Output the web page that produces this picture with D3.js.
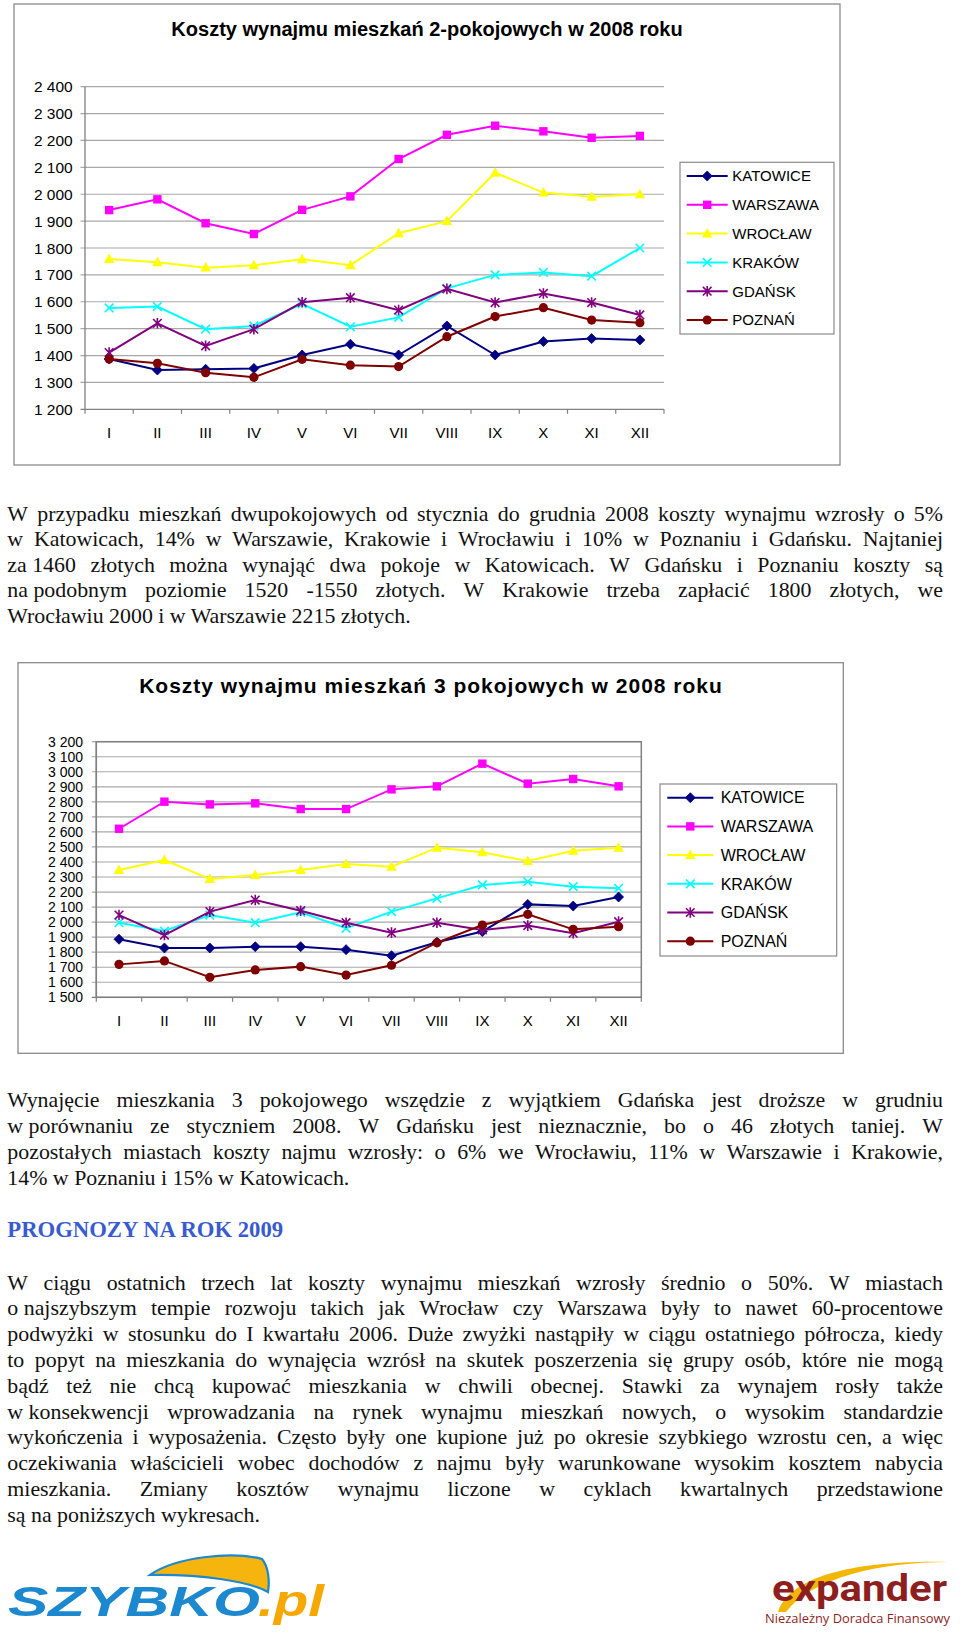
<!DOCTYPE html>
<html><head><meta charset="utf-8">
<script src="https://cdn.jsdelivr.net/npm/d3@7"></script>
<style>
html,body{margin:0;padding:0;background:#fff;}
svg{display:block;}
</style></head><body>
<svg id="page" width="960" height="1632" xmlns="http://www.w3.org/2000/svg"></svg>
<script>
// ---------------- DATA ----------------
const months = ["I","II","III","IV","V","VI","VII","VIII","IX","X","XI","XII"];
const cities = ["KATOWICE","WARSZAWA","WROCŁAW","KRAKÓW","GDAŃSK","POZNAŃ"];

// 2-room flats
const katowice2 = [1387,1346,1349,1352,1402,1442,1402,1510,1402,1452,1463,1458];
const warszawa2 = [1941,1981,1892,1852,1942,1992,2131,2221,2255,2234,2210,2217];
const wroclaw2  = [1759,1747,1727,1736,1758,1736,1855,1900,2080,2006,1991,2000];
const krakow2   = [1577,1582,1498,1510,1592,1507,1542,1650,1700,1709,1695,1800];
const gdansk2   = [1411,1520,1436,1498,1598,1615,1569,1648,1597,1631,1597,1551];
const poznan2   = [1387,1371,1336,1319,1386,1364,1359,1470,1545,1578,1532,1522];

// 3-room flats
const katowice3 = [1886,1828,1828,1837,1837,1817,1777,1866,1937,2118,2107,2167];
const warszawa3 = [2621,2801,2783,2790,2752,2752,2883,2903,3054,2921,2952,2903];
const wroclaw3  = [2347,2413,2287,2313,2347,2387,2369,2495,2464,2406,2475,2495];
const krakow3   = [1996,1941,2047,1996,2065,1959,2070,2158,2247,2269,2236,2225];
const gdansk3   = [2047,1914,2070,2147,2076,1996,1930,1996,1948,1977,1926,2003];
const poznan3   = [1719,1742,1633,1682,1704,1648,1713,1863,1981,2052,1952,1970];

const yTicks2 = [1200,1300,1400,1500,1600,1700,1800,1900,2000,2100,2200,2300,2400];
const yTicks3 = [1500,1600,1700,1800,1900,2000,2100,2200,2300,2400,2500,2600,2700,2800,2900,3000,3100,3200];

const title2 = "Koszty wynajmu mieszkań 2-pokojowych w 2008 roku";
const title3 = "Koszty wynajmu mieszkań 3 pokojowych w 2008 roku";

const para1 = [
 "W przypadku mieszkań dwupokojowych od stycznia do grudnia 2008 koszty wynajmu wzrosły o 5%",
 "w Katowicach, 14% w Warszawie, Krakowie i Wrocławiu i 10% w Poznaniu i Gdańsku. Najtaniej",
 "za\u00a01460 złotych można wynająć dwa pokoje w Katowicach. W Gdańsku i Poznaniu koszty są",
 "na\u00a0podobnym poziomie 1520 -1550 złotych. W Krakowie trzeba zapłacić 1800 złotych, we",
 "Wrocławiu 2000 i w Warszawie 2215 złotych."
];
const para2 = [
 "Wynajęcie mieszkania 3 pokojowego wszędzie z wyjątkiem Gdańska jest droższe w grudniu",
 "w\u00a0porównaniu ze styczniem 2008. W Gdańsku jest nieznacznie, bo o 46 złotych taniej. W",
 "pozostałych miastach koszty najmu wzrosły: o 6% we Wrocławiu, 11% w Warszawie i Krakowie,",
 "14% w Poznaniu i 15% w Katowicach."
];
const heading = "PROGNOZY NA ROK 2009";
const para3 = [
 "W ciągu ostatnich trzech lat koszty wynajmu mieszkań wzrosły średnio o 50%. W miastach",
 "o\u00a0najszybszym tempie rozwoju takich jak Wrocław czy Warszawa były to nawet 60-procentowe",
 "podwyżki w stosunku do I kwartału 2006. Duże zwyżki nastąpiły w ciągu ostatniego półrocza, kiedy",
 "to popyt na mieszkania do wynajęcia wzrósł na skutek poszerzenia się grupy osób, które nie mogą",
 "bądź też nie chcą kupować mieszkania w chwili obecnej. Stawki za wynajem rosły także",
 "w\u00a0konsekwencji wprowadzania na rynek wynajmu mieszkań nowych, o wysokim standardzie",
 "wykończenia i wyposażenia. Często były one kupione już po okresie szybkiego wzrostu cen, a więc",
 "oczekiwania właścicieli wobec dochodów z najmu były warunkowane wysokim kosztem nabycia",
 "mieszkania. Zmiany kosztów wynajmu liczone w cyklach kwartalnych przedstawione",
 "są na poniższych wykresach."
];

// ---------------- STYLE ----------------
const colors = ["#000080","#FF00FF","#FFFF00","#00FFFF","#800080","#800000"];
const shapes = ["diamond","square","triangle","x","star","circle"];
const sans = 'Arial, "Liberation Sans", sans-serif';
const serif = '"Liberation Serif", "Times New Roman", serif';

const svg = d3.select("#page");
svg.append("rect").attr("width",960).attr("height",1632).attr("fill","#fff");

const fmt = d3.formatLocale({decimal:",", thousands:" ", grouping:[3], currency:["",""]}).format(",d");

function drawMarker(g, type, color, s) {
  if (type === "diamond") {
    g.append("path").attr("d", `M0,${-5*s}L${5*s},0L0,${5*s}L${-5*s},0Z`).attr("fill", color).attr("stroke", color).attr("stroke-width",0.8);
  } else if (type === "square") {
    g.append("rect").attr("x",-4.2*s).attr("y",-4.2*s).attr("width",8.4*s).attr("height",8.4*s).attr("fill",color);
  } else if (type === "triangle") {
    g.append("path").attr("d", `M0,${-5.5*s}L${5.2*s},${4*s}L${-5.2*s},${4*s}Z`).attr("fill",color);
  } else if (type === "x") {
    g.append("path").attr("d", `M${-4.3*s},${-4.3*s}L${4.3*s},${4.3*s}M${-4.3*s},${4.3*s}L${4.3*s},${-4.3*s}`).attr("stroke",color).attr("stroke-width",1.6).attr("fill","none");
  } else if (type === "star") {
    g.append("path").attr("d", `M${-4.3*s},${-4.3*s}L${4.3*s},${4.3*s}M${-4.3*s},${4.3*s}L${4.3*s},${-4.3*s}M0,${-5.3*s}L0,${5.3*s}`).attr("stroke",color).attr("stroke-width",1.6).attr("fill","none");
  } else if (type === "circle") {
    g.append("circle").attr("r",4.6*s).attr("fill",color);
  }
}

function drawChart(cfg) {
  const g = svg.append("g");
  // frame
  g.append("rect").attr("x",cfg.frame[0]).attr("y",cfg.frame[1]).attr("width",cfg.frame[2]).attr("height",cfg.frame[3])
    .attr("fill","#fff").attr("stroke","#8a8a8a").attr("stroke-width",1.3);
  // title
  g.append("text").attr("x",cfg.titleX).attr("y",cfg.titleY).attr("text-anchor","middle")
    .attr("font-family",sans).attr("font-weight","bold").attr("font-size",cfg.titleSize)
    .attr("letter-spacing",cfg.titleLS).text(cfg.title);

  const x = d3.scaleBand().domain(months).range([cfg.left, cfg.right]);
  const y = d3.scaleLinear().domain(cfg.domain).range([cfg.bottom, cfg.top]);

  // gridlines
  g.append("g").selectAll("line").data(cfg.ticks).join("line")
    .attr("x1", cfg.left - 4.5).attr("x2", cfg.right)
    .attr("y1", d => y(d)).attr("y2", d => y(d))
    .attr("stroke", d => d === cfg.domain[0] ? "#808080" : "#a8a8a8").attr("stroke-width", 1.2);
  // y axis line
  g.append("line").attr("x1",cfg.left).attr("x2",cfg.left).attr("y1",cfg.top).attr("y2",cfg.bottom)
    .attr("stroke","#808080").attr("stroke-width",1.3);
  if (cfg.border) {
    g.append("rect").attr("x",cfg.left).attr("y",cfg.top).attr("width",cfg.right-cfg.left).attr("height",cfg.bottom-cfg.top)
      .attr("fill","none").attr("stroke","#808080").attr("stroke-width",1.5);
  }
  // x ticks at band boundaries
  const bounds = months.map(m => x(m)).concat([cfg.right]);
  g.append("g").selectAll("line").data(bounds).join("line")
    .attr("x1", d => d).attr("x2", d => d).attr("y1", cfg.bottom).attr("y2", cfg.bottom + 4.5)
    .attr("stroke","#808080").attr("stroke-width",1.2);
  // y labels
  g.append("g").selectAll("text").data(cfg.ticks).join("text")
    .attr("x", cfg.yLabelX).attr("y", d => y(d)).attr("dy","0.36em").attr("text-anchor","end")
    .attr("font-family",sans).attr("font-size",cfg.yLabelSize).attr("fill","#000").text(d => fmt(d));
  // x labels
  g.append("g").selectAll("text").data(months).join("text")
    .attr("x", d => x(d) + x.bandwidth()/2).attr("y", cfg.xLabelY).attr("text-anchor","middle")
    .attr("font-family",sans).attr("font-size",cfg.xLabelSize).attr("fill","#000").text(d => d);

  // series
  const line = d3.line().x((d,i) => x(months[i]) + x.bandwidth()/2).y(d => y(d));
  cfg.series.forEach((vals, si) => {
    const sg = g.append("g");
    sg.append("path").attr("d", line(vals)).attr("fill","none").attr("stroke",colors[si]).attr("stroke-width",2);
    vals.forEach((v,i) => {
      const mg = sg.append("g").attr("transform", `translate(${x(months[i]) + x.bandwidth()/2},${y(v)})`);
      drawMarker(mg, shapes[si], colors[si], cfg.markerScale);
    });
  });

  // legend
  const L = cfg.legend;
  g.append("rect").attr("x",L.x).attr("y",L.y).attr("width",L.w).attr("height",L.h)
    .attr("fill","#fff").attr("stroke","#8a8a8a").attr("stroke-width",1.2);
  cities.forEach((c, i) => {
    const ly = L.y0 + i * L.step;
    g.append("line").attr("x1",L.lx1).attr("x2",L.lx2).attr("y1",ly).attr("y2",ly).attr("stroke",colors[i]).attr("stroke-width",2);
    const mg = g.append("g").attr("transform",`translate(${(L.lx1+L.lx2)/2},${ly})`);
    drawMarker(mg, shapes[i], colors[i], cfg.markerScale);
    g.append("text").attr("x",L.tx).attr("y",ly).attr("dy","0.36em").attr("font-family",sans)
      .attr("font-size",L.size).attr("fill","#000").text(c);
  });
}

drawChart({
  frame:[14,4,826,461], title:title2, titleX:427, titleY:36, titleSize:20, titleLS:0,
  left:85, right:664, top:86.7, bottom:409.3, domain:[1200,2400], ticks:yTicks2, border:false,
  yLabelX:72.7, yLabelSize:15.5, xLabelY:438, xLabelSize:15,
  series:[katowice2,warszawa2,wroclaw2,krakow2,gdansk2,poznan2], markerScale:1,
  legend:{x:680,y:162.3,w:154,h:171.7,y0:176,step:28.8,lx1:686.7,lx2:727.7,tx:732.3,size:15}
});

drawChart({
  frame:[18,662.7,825.3,390.6], title:title3, titleX:431, titleY:693.3, titleSize:21, titleLS:1,
  left:96.3, right:641.3, top:741.7, bottom:997.3, domain:[1500,3200], ticks:yTicks3, border:true,
  yLabelX:83, yLabelSize:14, xLabelY:1025.5, xLabelSize:15,
  series:[katowice3,warszawa3,wroclaw3,krakow3,gdansk3,poznan3], markerScale:1,
  legend:{x:660,y:784,w:176.7,h:172,y0:797.7,step:28.7,lx1:667.3,lx2:713.3,tx:720.7,size:16}
});

// ---------------- TEXT ----------------
const ctx = document.createElement("canvas").getContext("2d");
function measure(t, fs, weight) { ctx.font = `${weight || ""} ${fs}px "Liberation Serif"`; return ctx.measureText(t).width; }
const calib = [["Wrocławiu 2000 i w Warszawie 2215 złotych.",404],["14% w Poznaniu i 15% w Katowicach.",344],["są na poniższych wykresach.",250.7]];
const bodyFS = 100 * d3.sum(calib, c => c[1]) / d3.sum(calib, c => measure(c[0],100));
const X0 = 7.3, X1 = 943;

function drawPara(lines, y0, step) {
  lines.forEach((ln, i) => {
    const yy = y0 + i*step;
    const t = svg.append("text").attr("y", yy).attr("font-family", serif).attr("font-size", bodyFS).attr("fill","#111");
    if (i === lines.length - 1) {
      t.attr("x", X0).text(ln);
    } else {
      const words = ln.split(" ");
      const ws = words.map(w => measure(w, bodyFS));
      const gap = (X1 - X0 - d3.sum(ws)) / (words.length - 1);
      let cx = X0;
      words.forEach((w, k) => {
        t.append("tspan").attr("x", cx).text(w);
        cx += ws[k] + gap;
      });
    }
  });
}
drawPara(para1, 520.5, 25.55);
drawPara(para2, 1107.3, 25.9);
const hFS = 100 * 278 / measure(heading, 100, "bold");
svg.append("text").attr("x", X0).attr("y", 1236.7).attr("font-family", serif).attr("font-weight","bold").attr("font-size", hFS)
  .attr("fill","#3a5bd0").text(heading);
drawPara(para3, 1289.6, 25.8);

// ---------------- LOGOS ----------------
const lg = svg.append("g");
// szybko wing
lg.append("path").attr("d","M150,1575 C175,1557 232,1551 262,1559 C268,1566 270,1580 268,1592 C248,1581 200,1574 150,1575 Z")
  .attr("fill","#f6b40e").attr("stroke","#1b88cf").attr("stroke-width",2.2);
lg.append("text").attr("x",8).attr("y",1616).attr("font-family",sans).attr("font-weight","bold").attr("font-style","italic")
  .attr("font-size",42).attr("fill","#1b88cf").attr("textLength",252).attr("lengthAdjust","spacingAndGlyphs").text("SZYBKO");
lg.append("text").attr("x",258).attr("y",1616).attr("font-family",sans).attr("font-weight","bold").attr("font-style","italic")
  .attr("font-size",44).attr("fill","#f6a800").attr("textLength",66).attr("lengthAdjust","spacingAndGlyphs").text(".pl");
// expander
lg.append("path").attr("d","M778,1612 C790,1575 860,1560 948,1562 C880,1562 812,1578 786,1612 Z").attr("fill","#f2b705");
lg.append("text").attr("x",772).attr("y",1601).attr("font-family",'"Liberation Sans Narrow","Roboto","Arial",sans-serif').attr("font-weight","bold")
  .attr("font-size",36).attr("fill","#8e1f1f").attr("textLength",175).attr("lengthAdjust","spacingAndGlyphs").text("expander");
lg.append("text").attr("x",765).attr("y",1623).attr("font-family",'"Open Sans",sans-serif')
  .attr("font-size",12.5).attr("fill","#8e1f1f").attr("textLength",185).attr("lengthAdjust","spacingAndGlyphs").text("Niezależny Doradca Finansowy");
</script>
</body></html>
